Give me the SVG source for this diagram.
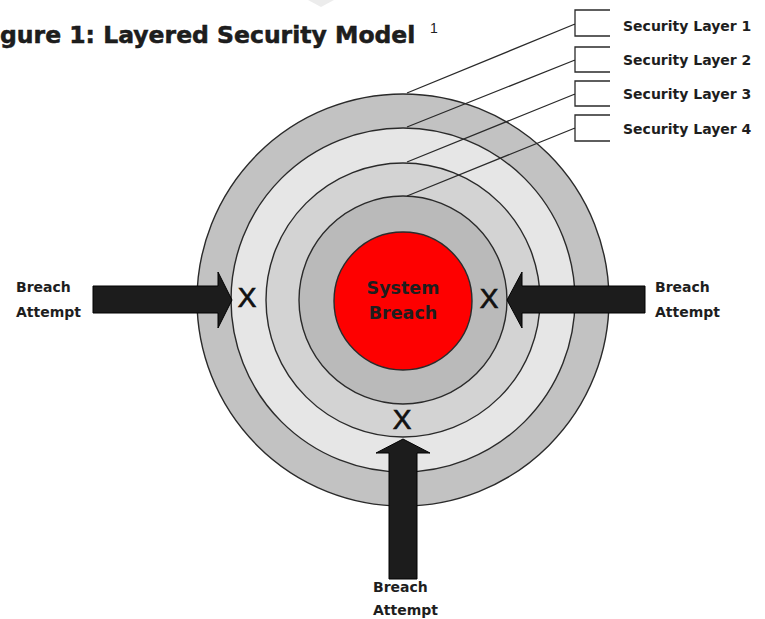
<svg xmlns="http://www.w3.org/2000/svg" width="765" height="619" viewBox="0 0 765 619">
  <style>
    .ring { stroke: #2a2a2a; stroke-width: 1.4; }
    .lbl { font-family: "DejaVu Sans", "Liberation Sans", sans-serif; font-weight: bold; fill: #1e1e1e; }
    .layer { font-size: 14px; }
    .attempt { font-size: 14px; }
    .x { font-family: "Liberation Sans", Arial, sans-serif; font-size: 28px; fill: #111; stroke: #111; stroke-width: 0.7; text-anchor: middle; }
    .arrow { fill: #1c1c1c; stroke: #000; stroke-width: 1; stroke-linejoin: miter; }
    .lead { fill: none; stroke: #2a2a2a; stroke-width: 1.3; }
  </style>

  <rect width="765" height="619" fill="#ffffff"/>
  <polygon points="308,0 334,0 321,7" fill="#ececec"/>

  <!-- title -->
  <g id="title">
    <text class="lbl" x="0" y="43" font-size="23.5" fill="#111" stroke="#111" stroke-width="0.5">gure 1: Layered Security Model</text>
    <text x="430" y="33" font-family="Liberation Sans, Arial, sans-serif" font-size="14" fill="#222">1</text>
  </g>

  <!-- concentric security layers -->
  <g id="layer1"><circle class="ring" cx="403" cy="300" r="206" fill="#c2c2c2"/></g>
  <g id="layer2"><circle class="ring" cx="403" cy="300" r="172" fill="#e6e6e6"/></g>
  <g id="layer3"><circle class="ring" cx="403" cy="300" r="137" fill="#d3d3d3"/></g>
  <g id="layer4"><circle class="ring" cx="403" cy="300" r="104" fill="#bababa"/></g>
  <g id="core">
    <circle class="ring" cx="403" cy="301" r="69" fill="#fe0000"/>
    <text class="lbl" x="403" y="294" font-size="17.5" text-anchor="middle" fill="#1a0000">System</text>
    <text class="lbl" x="403" y="319" font-size="17.5" text-anchor="middle" fill="#1a0000">Breach</text>
  </g>

  <!-- leader lines and brackets to the layer labels -->
  <g id="connectors">
    <path class="lead" d="M407,93 L575,24 M610,10 H575 V36 H610"/>
    <path class="lead" d="M407,127 L575,60 M610,47 H575 V72 H610"/>
    <path class="lead" d="M407,162 L575,94 M610,81 H575 V106 H610"/>
    <path class="lead" d="M407,196 L575,128 M610,115 H575 V141 H610"/>
  </g>

  <g id="label-layer1"><text class="lbl layer" x="623" y="31">Security Layer 1</text></g>
  <g id="label-layer2"><text class="lbl layer" x="623" y="65">Security Layer 2</text></g>
  <g id="label-layer3"><text class="lbl layer" x="623" y="99">Security Layer 3</text></g>
  <g id="label-layer4"><text class="lbl layer" x="623" y="134">Security Layer 4</text></g>

  <!-- breach attempts -->
  <g id="attempt-left">
    <polygon class="arrow" points="93,286 218,286 218,272 232,300 218,328 218,313 93,313"/>
    <text class="lbl attempt" x="16" y="292">Breach</text>
    <text class="lbl attempt" x="16" y="317">Attempt</text>
    <text class="x" x="247" y="307">X</text>
  </g>
  <g id="attempt-right">
    <polygon class="arrow" points="507,300 522,272 522,286 645,286 645,313 522,313 522,328"/>
    <text class="lbl attempt" x="655" y="292">Breach</text>
    <text class="lbl attempt" x="655" y="317">Attempt</text>
    <text class="x" x="489" y="308">X</text>
  </g>
  <g id="attempt-bottom">
    <polygon class="arrow" points="403,439 430,453 417,453 417,579 389,579 389,453 376,453"/>
    <text class="lbl attempt" x="373" y="592">Breach</text>
    <text class="lbl attempt" x="373" y="615">Attempt</text>
    <text class="x" x="402" y="429">X</text>
  </g>
</svg>
